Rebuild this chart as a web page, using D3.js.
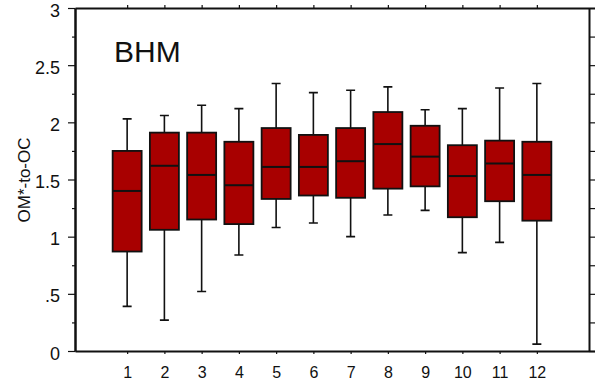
<!DOCTYPE html>
<html>
<head>
<meta charset="utf-8">
<script src="https://cdn.jsdelivr.net/npm/d3@7"></script>
<style>
  html, body { margin: 0; padding: 0; background: #fff; }
  svg { display: block; font-family: Arial, "Liberation Sans", sans-serif; }
</style>
</head>
<body>
<svg id="chart" width="595" height="391"></svg>
<script>
// dati (mesi 1-12)
const mesi      = [1, 2, 3, 4, 5, 6, 7, 8, 9, 10, 11, 12];
const whiskLow  = [0.39, 0.27, 0.52, 0.84, 1.08, 1.12, 1.00, 1.19, 1.23, 0.86, 0.95, 0.06];
const q1        = [0.87, 1.06, 1.15, 1.11, 1.33, 1.36, 1.34, 1.42, 1.44, 1.17, 1.31, 1.14];
const mediana   = [1.40, 1.62, 1.54, 1.45, 1.61, 1.61, 1.66, 1.81, 1.70, 1.53, 1.64, 1.54];
const q3        = [1.75, 1.91, 1.91, 1.83, 1.95, 1.89, 1.95, 2.09, 1.97, 1.80, 1.84, 1.83];
const whiskHigh = [2.03, 2.06, 2.15, 2.12, 2.34, 2.26, 2.28, 2.31, 2.11, 2.12, 2.30, 2.34];

const yTicks      = [0, 0.5, 1, 1.5, 2, 2.5, 3];
const yTickLabels = ["0", ".5", "1", "1.5", "2", "2.5", "3"];
const yMinor      = [0.25, 0.75, 1.25, 1.75, 2.25, 2.75];
const yRightTicks = [0, 0.25, 0.5, 0.75, 1, 1.25, 1.5, 1.75, 2, 2.25, 2.5, 2.75];

const TITOLO = "BHM";
const Y_LABEL = "OM*-to-OC";

const FILL = "#a80000";
const INK  = "#111";
const LEFT = 75, RIGHT = 589, TOP = 8, BOTTOM = 351, W = 595;

const svg = d3.select("#chart");

const x = d3.scaleLinear().domain([-0.4, 13.4]).range([LEFT, RIGHT]);
const y = d3.scaleLinear().domain([0, 3]).range([BOTTOM, TOP]);
// la linea sopra/sotto continua fino al bordo della figura
const xExt = x.copy().domain([-0.4, x.invert(W)]).range([LEFT, W]);

const boxW = 29, capW = 9;

/* ── ASSI ────────────────────────────────────── */

function stile(g, fontSize) {
  g.select(".domain").attr("stroke", INK).attr("stroke-width", 2);
  g.selectAll(".tick line").attr("stroke", INK).attr("stroke-width", 1.2);
  g.selectAll(".tick text").attr("fill", INK)
    .attr("font-family", "Arial, 'Liberation Sans', sans-serif")
    .attr("font-size", fontSize);
}

svg.append("g")
  .attr("transform", `translate(0,${BOTTOM})`)
  .call(d3.axisBottom(xExt).tickValues(mesi).tickSize(3).tickSizeOuter(0).tickPadding(13).tickFormat(d3.format("d")))
  .call(g => stile(g, 16));

svg.append("g")
  .attr("transform", `translate(0,${TOP})`)
  .call(d3.axisTop(xExt).tickValues(mesi).tickSize(3).tickSizeOuter(0).tickFormat(""))
  .call(g => stile(g, 16));

svg.append("g")
  .attr("transform", `translate(${LEFT},0)`)
  .call(d3.axisLeft(y).tickValues(yMinor).tickSize(3).tickSizeOuter(0).tickFormat(""))
  .call(g => stile(g, 18));

svg.append("g")
  .attr("transform", `translate(${LEFT},0)`)
  .call(d3.axisLeft(y).tickValues(yTicks).tickSize(7).tickSizeOuter(0).tickPadding(8)
    .tickFormat((d, i) => yTickLabels[i]))
  .call(g => stile(g, 18))
  .call(g => g.selectAll(".tick text").attr("dy", "0.45em"));

svg.append("g")
  .attr("transform", `translate(${RIGHT},0)`)
  .call(d3.axisRight(y).tickValues(yRightTicks).tickSize(6).tickSizeOuter(0).tickFormat(""))
  .call(g => stile(g, 18));

/* ── BOX ─────────────────────────────────────── */

const data = mesi.map((m, i) => ({
  m, lo: whiskLow[i], q1: q1[i], med: mediana[i], q3: q3[i], hi: whiskHigh[i]
}));

const box = svg.append("g").selectAll("g").data(data).join("g");

box.append("path")
  .attr("d", d => {
    const cx = x(d.m);
    return `M${cx},${y(d.hi)}V${y(d.lo)}` +
      `M${cx - capW / 2},${y(d.hi)}H${cx + capW / 2}` +
      `M${cx - capW / 2},${y(d.lo)}H${cx + capW / 2}`;
  })
  .attr("fill", "none")
  .attr("stroke", INK).attr("stroke-width", 1.6);

box.append("rect")
  .attr("x", d => x(d.m) - boxW / 2)
  .attr("width", boxW)
  .attr("y", d => y(d.q3))
  .attr("height", d => y(d.q1) - y(d.q3))
  .attr("fill", FILL)
  .attr("stroke", INK).attr("stroke-width", 1.8);

box.append("path")
  .attr("d", d => `M${x(d.m) - boxW / 2},${y(d.med)}H${x(d.m) + boxW / 2}`)
  .attr("fill", "none")
  .attr("stroke", INK).attr("stroke-width", 2);

/* ── TESTI ───────────────────────────────────── */

svg.append("text")
  .attr("transform", "translate(30,180) rotate(-90)")
  .attr("text-anchor", "middle")
  .attr("font-size", 17).attr("fill", INK)
  .text(Y_LABEL);

svg.append("text")
  .attr("x", 114).attr("y", 62)
  .attr("font-size", 30).attr("fill", INK)
  .text(TITOLO);
</script>
</body>
</html>
